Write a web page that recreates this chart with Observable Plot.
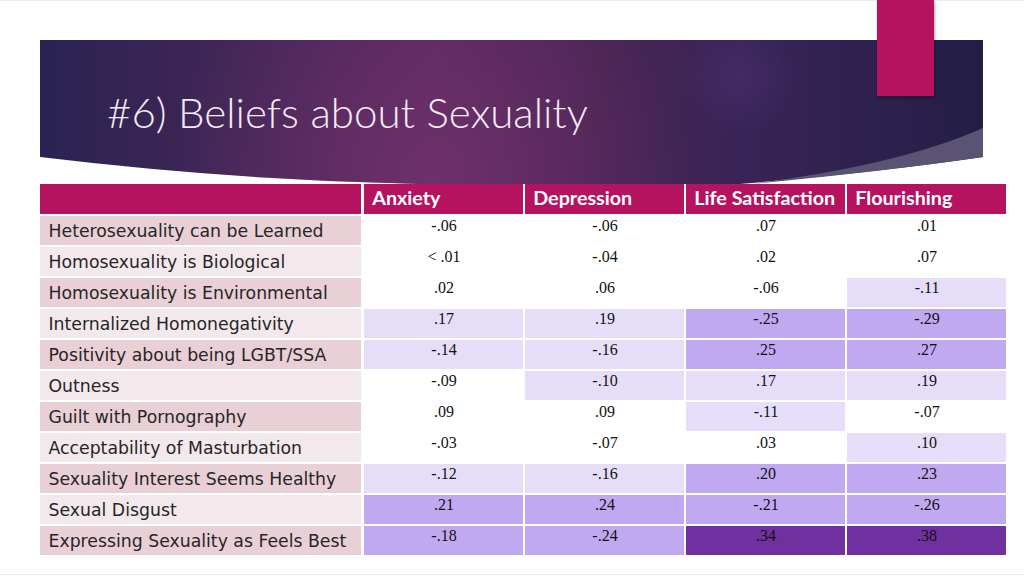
<!DOCTYPE html>
<html>
<head>
<meta charset="utf-8">
<script src="https://cdn.jsdelivr.net/npm/d3@7"></script>
<script src="https://cdn.jsdelivr.net/npm/@observablehq/plot@0.6"></script>
<style>
  html, body { margin: 0; padding: 0; background: #ffffff; }
  #page { position: relative; width: 1024px; height: 576px; overflow: hidden; background: #fff; }
  #topline { position: absolute; left: 0; top: 0; width: 1024px; height: 1px; background: #ececec; }
  #banner { position: absolute; left: 0; top: 0; }
  #title { position: absolute; left: 107px; top: 86px; font-family: "Lato", "Open Sans", sans-serif; font-weight: 300; font-size: 39px; color: #f3ecf3; white-space: nowrap; letter-spacing: 0px; }
  #tab { position: absolute; left: 877px; top: 0; width: 57px; height: 96px; background: #B5135F; box-shadow: 1px 2px 3px rgba(0,0,0,0.35); }
  #table { position: absolute; left: 40px; top: 184px; display: flex; }
  #bottomline { position: absolute; left: 0; top: 574px; width: 1024px; height: 1px; background: #ececec; }
</style>
</head>
<body>
<div id="page">
  <div id="topline"></div>
  <svg id="banner" width="1024" height="200">
    <defs>
      <linearGradient id="bg" x1="40" y1="0" x2="983" y2="0" gradientUnits="userSpaceOnUse">
        <stop offset="0" stop-color="#2a2352"/>
        <stop offset="0.25" stop-color="#472757"/>
        <stop offset="0.42" stop-color="#5a2a5e"/>
        <stop offset="0.6" stop-color="#482553"/>
        <stop offset="0.75" stop-color="#382456"/>
        <stop offset="1" stop-color="#241e46"/>
      </linearGradient>
      <radialGradient id="glow1" cx="430" cy="185" r="260" gradientUnits="userSpaceOnUse">
        <stop offset="0" stop-color="#7a3372" stop-opacity="0.65"/>
        <stop offset="1" stop-color="#7a3372" stop-opacity="0"/>
      </radialGradient>
      <radialGradient id="glow2" cx="740" cy="75" r="60" gradientUnits="userSpaceOnUse">
        <stop offset="0" stop-color="#4f3278" stop-opacity="0.45"/>
        <stop offset="1" stop-color="#4f3278" stop-opacity="0"/>
      </radialGradient>
    </defs>
    <path d="M40,40 H983 V157 Q880,172 740,184 L420,184 Q230,180 40,157 Z" fill="url(#bg)"/>
    <path d="M40,40 H983 V157 Q880,172 740,184 L420,184 Q230,180 40,157 Z" fill="url(#glow1)"/>
    <path d="M40,40 H983 V157 Q880,172 740,184 L420,184 Q230,180 40,157 Z" fill="url(#glow2)"/>
    <path d="M983,128 Q900,165 750,184 Q880,172 983,157 Z" fill="#5a5374"/>
  </svg>
  <div id="title">#6) Beliefs about Sexuality</div>
  <div id="tab"></div>
  <div id="table"></div>
  <div id="bottomline"></div>
</div>
<script>
// ---- data ----
const rows = [
  "Heterosexuality can be Learned",
  "Homosexuality is Biological",
  "Homosexuality is Environmental",
  "Internalized Homonegativity",
  "Positivity about being LGBT/SSA",
  "Outness",
  "Guilt with Pornography",
  "Acceptability of Masturbation",
  "Sexuality Interest Seems Healthy",
  "Sexual Disgust",
  "Expressing Sexuality as Feels Best"
];
const metrics = ["Anxiety", "Depression", "Life Satisfaction", "Flourishing"];
// correlations (0.005 stands for the printed "< .01")
const anxiety     = [-.06, .005, .02, .17, -.14, -.09, .09, -.03, -.12, .21, -.18];
const depression  = [-.06, -.04, .06, .19, -.16, -.10, .09, -.07, -.16, .24, -.24];
const lifeSat     = [.07, .02, -.06, -.25, .25, .17, -.11, .03, .20, -.21, .34];
const flourishing = [.01, .07, -.11, -.29, .27, .19, -.07, .10, .23, -.26, .38];
// shading tier of each cell as highlighted in the table
const anxietyTier     = [0, 0, 0, 1, 1, 0, 0, 0, 1, 2, 2];
const depressionTier  = [0, 0, 0, 1, 1, 1, 0, 0, 1, 2, 2];
const lifeSatTier     = [0, 0, 0, 2, 2, 1, 1, 0, 2, 2, 3];
const flourishingTier = [0, 0, 1, 2, 2, 1, 0, 1, 2, 2, 3];
const tiers = [0, 1, 2, 3];
const tierColors = ["#ffffff", "#E6DEF8", "#C1A9F1", "#7030A0"];

// ---- build table ----
const HEADER = "\u200b";
const series = [anxiety, depression, lifeSat, flourishing];
const seriesTier = [anxietyTier, depressionTier, lifeSatTier, flourishingTier];
const cells = [];
metrics.forEach((m, j) => rows.forEach((r, i) => cells.push({metric: m, row: r, value: series[j][i], tier: seriesTier[j][i]})));
const rowData = rows.map((r, i) => ({row: r, i}));
const fmt = v => Math.abs(v) < 0.01 ? "< .01" : d3.format(".2f")(v).replace("\u2212", "-").replace("0.", ".");

const H = 372;
const LW = 322, RW = 646;
const yScale = {type: "band", domain: [HEADER, ...rows], padding: 0, axis: null};
const magenta = "#B5135F";

const left = Plot.plot({
  width: LW, height: H, margin: 0,
  x: {type: "band", domain: [""], padding: 0, axis: null},
  y: yScale,
  marks: [
    Plot.cell([HEADER], {x: () => "", y: d => d, fill: magenta, insetBottom: 1, insetRight: 1}),
    Plot.cell(rowData, {x: () => "", y: "row", fill: d => d.i % 2 === 0 ? "#E9D0D7" : "#F3E9ED", insetTop: 1, insetBottom: 1, insetRight: 1}),
    Plot.text(rowData, {y: "row", text: "row", frameAnchor: "left", textAnchor: "start", dx: 8, dy: 0,
      fill: "#262626", fontSize: 18, fontFamily: "DejaVu Sans, sans-serif", className: "rowlabel"})
  ]
});

const bw = RW / metrics.length;
const right = Plot.plot({
  width: RW, height: H, margin: 0,
  x: {type: "band", domain: metrics, padding: 0, axis: null},
  y: yScale,
  color: {type: "ordinal", domain: tiers, range: tierColors},
  marks: [
    Plot.cell(metrics, {x: d => d, y: () => HEADER, fill: magenta, insetBottom: 1, insetLeft: 1, insetRight: 1}),
    Plot.text(metrics, {x: d => d, y: () => HEADER, text: d => d, fill: "white", fontWeight: "bold", textAnchor: "start",
      dx: -bw / 2 + 9, dy: -1, fontSize: 17, fontFamily: "Lato, Open Sans, sans-serif", className: "hdr"}),
    Plot.cell(cells, {x: "metric", y: "row", fill: "tier", insetTop: 1, insetBottom: 1, insetLeft: 1, insetRight: 1}),
    Plot.text(cells, {x: "metric", y: "row", text: d => fmt(d.value), dy: -5, fill: "#111",
      fontSize: 16, fontFamily: "Liberation Serif, Times New Roman, serif"})
  ]
});

const host = document.getElementById("table");
host.appendChild(left);
host.appendChild(right);

// fit fonts to widths measured on the reference
function fitGroup(selector, sample, target) {
  const nodes = Array.from(document.querySelectorAll(selector + " text"));
  const s = nodes.find(n => n.textContent === sample);
  if (!s) return;
  const w = s.getComputedTextLength();
  const fs = parseFloat(getComputedStyle(s).fontSize);
  const nfs = fs * target / w;
  nodes.forEach(n => n.style.fontSize = nfs + "px");
}
fitGroup(".rowlabel", "Expressing Sexuality as Feels Best", 298);
fitGroup(".hdr", "Life Satisfaction", 141);
const t = document.getElementById("title");
const tw = t.getBoundingClientRect().width;
t.style.fontSize = (39 * 481 / tw) + "px";
</script>
</body>
</html>
